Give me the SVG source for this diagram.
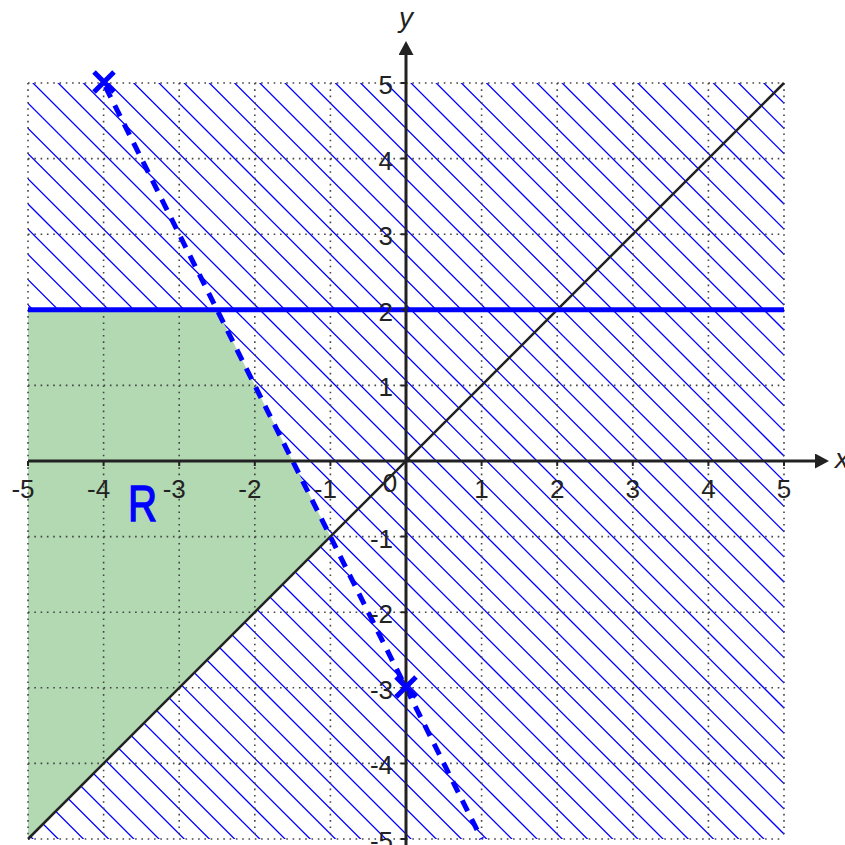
<svg xmlns="http://www.w3.org/2000/svg" width="845" height="845" viewBox="0 0 845 845">
<style>
.grid{stroke:#444;stroke-width:1.6;stroke-dasharray:1.6 4.7;fill:none}
.axis{stroke:#222;stroke-width:3;fill:none}
.tick{stroke:#222;stroke-width:2}
.lbl{font-family:"Liberation Sans",Arial,sans-serif;font-size:26px;fill:#222}
.var{font-family:"Liberation Sans",Arial,sans-serif;font-size:28px;font-style:italic;fill:#222}
.hatch{stroke:#0000ff;stroke-width:1.3;fill:none}
.blue{stroke:#0000ff;fill:none}
.cross{stroke:#0000ff;stroke-width:5;fill:none}
</style>
<defs>
<marker id="arr" markerUnits="userSpaceOnUse" markerWidth="16" markerHeight="16" refX="2" refY="7.5" orient="auto">
<path d="M0,0 L14,7.5 L0,15 Z" fill="#222"/>
</marker>
<clipPath id="hatchClip">
<path clip-rule="evenodd" d="M28,83 H784 V839 H28 Z M28,309.8 L217,309.8 L330.4,536.6 L28,839 Z"/>
</clipPath>
</defs>
<rect width="845" height="845" fill="#fff"/>
<g id="region-R">
<polygon points="28,309.8 217,309.8 330.4,536.6 28,839" fill="#b2d9b2"/>
</g>
<g id="hatching" clip-path="url(#hatchClip)">
<path class="hatch" d="M20,826l780,780M20,800.8l780,780M20,775.6l780,780M20,750.4l780,780M20,725.2l780,780M20,700l780,780M20,674.8l780,780M20,649.6l780,780M20,624.4l780,780M20,599.2l780,780M20,574l780,780M20,548.8l780,780M20,523.6l780,780M20,498.4l780,780M20,473.2l780,780M20,448l780,780M20,422.8l780,780M20,397.6l780,780M20,372.4l780,780M20,347.2l780,780M20,322l780,780M20,296.8l780,780M20,271.6l780,780M20,246.4l780,780M20,221.2l780,780M20,196l780,780M20,170.8l780,780M20,145.6l780,780M20,120.4l780,780M20,95.2l780,780M20,70l780,780M20,44.8l780,780M20,19.6l780,780M20,-5.6l780,780M20,-30.8l780,780M20,-56l780,780M20,-81.2l780,780M20,-106.4l780,780M20,-131.6l780,780M20,-156.8l780,780M20,-182l780,780M20,-207.2l780,780M20,-232.4l780,780M20,-257.6l780,780M20,-282.8l780,780M20,-308l780,780M20,-333.2l780,780M20,-358.4l780,780M20,-383.6l780,780M20,-408.8l780,780M20,-434l780,780M20,-459.2l780,780M20,-484.4l780,780M20,-509.6l780,780M20,-534.8l780,780M20,-560l780,780M20,-585.2l780,780M20,-610.4l780,780M20,-635.6l780,780M20,-660.8l780,780"/>
</g>
<g id="grid">
<path class="grid" d="M28,83V839M103.6,83V839M179.2,83V839M254.8,83V839M330.4,83V839M481.6,83V839M557.2,83V839M632.8,83V839M708.4,83V839M784,83V839M28,83H784M28,158.6H784M28,234.2H784M28,309.8H784M28,385.4H784M28,536.6H784M28,612.2H784M28,687.8H784M28,763.4H784M28,839H784"/>
</g>
<g id="connectors">
<line id="line-y-eq-x" x1="28" y1="839" x2="784" y2="83" stroke="#222" stroke-width="2.5"/>
<line id="line-y-eq-2" class="blue" x1="28" y1="309.8" x2="784" y2="309.8" stroke-width="5"/>
<line id="line-dashed" class="blue" x1="103.6" y1="83" x2="481.6" y2="839" stroke-width="5" stroke-dasharray="12 9" stroke-dashoffset="-4"/>
</g>
<g id="axes">
<line class="axis" x1="28" y1="461" x2="817" y2="461" marker-end="url(#arr)"/>
<line class="axis" x1="406" y1="845" x2="406" y2="53" marker-end="url(#arr)"/>
<path class="tick" d="M28,461v5M103.6,461v5M179.2,461v5M254.8,461v5M330.4,461v5M481.6,461v5M557.2,461v5M632.8,461v5M708.4,461v5M784,461v5M406,83h-5M406,158.6h-5M406,234.2h-5M406,309.8h-5M406,385.4h-5M406,536.6h-5M406,612.2h-5M406,687.8h-5M406,763.4h-5M406,839h-5"/>
</g>
<g id="x-labels" class="lbl" text-anchor="middle">
<text x="23" y="498">-5</text>
<text x="98.6" y="498">-4</text>
<text x="174.2" y="498">-3</text>
<text x="249.8" y="498">-2</text>
<text x="325.4" y="498">-1</text>
<text x="390" y="492">0</text>
<text x="481.6" y="498">1</text>
<text x="557.2" y="498">2</text>
<text x="632.8" y="498">3</text>
<text x="708.4" y="498">4</text>
<text x="784" y="498">5</text>
</g>
<g id="y-labels" class="lbl" text-anchor="end">
<text x="393" y="94">5</text>
<text x="393" y="169.6">4</text>
<text x="393" y="245.2">3</text>
<text x="393" y="320.8">2</text>
<text x="393" y="396.4">1</text>
<text x="393" y="547.6">-1</text>
<text x="393" y="623.2">-2</text>
<text x="393" y="698.8">-3</text>
<text x="393" y="774.4">-4</text>
<text x="393" y="850">-5</text>
</g>
<g id="axis-names">
<text class="var" x="835" y="468">x</text>
<text class="var" x="406" y="27" text-anchor="middle">y</text>
</g>
<g id="point-A">
<path class="cross" d="M94,72L114,92M114,72L94,92"/>
</g>
<g id="point-B">
<path class="cross" d="M396,677L416,697M416,677L396,697"/>
</g>
<g id="label-R">
<text x="128" y="521" font-family="'Liberation Sans',sans-serif" font-size="50" fill="#0000ff" stroke="#0000ff" stroke-width="1.5" textLength="29" lengthAdjust="spacingAndGlyphs">R</text>
</g>
</svg>
